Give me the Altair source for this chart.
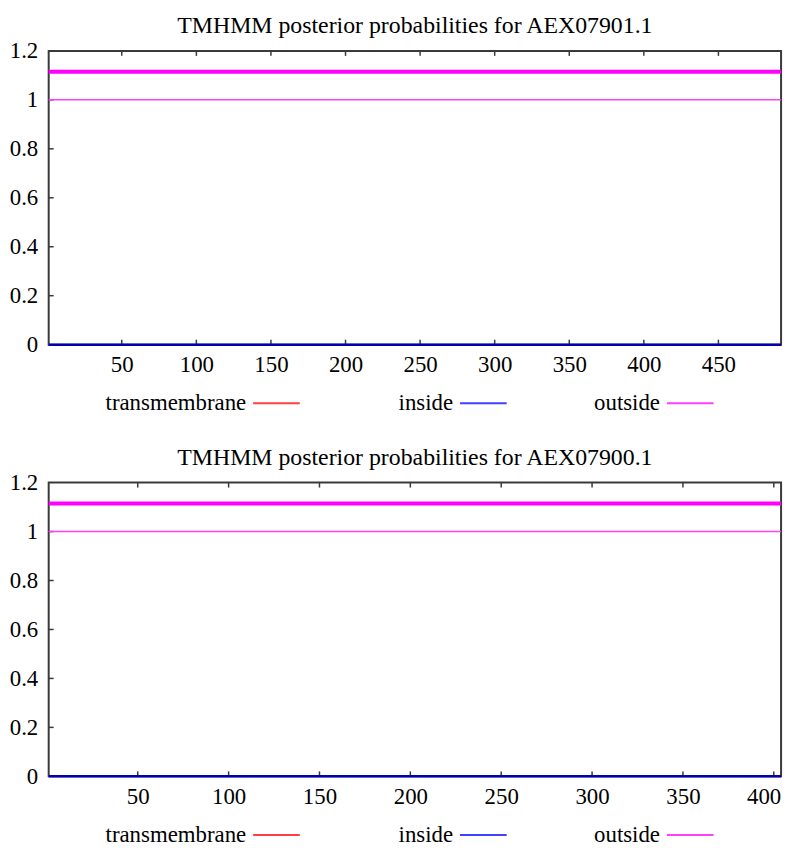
import altair as alt
import pandas as pd

# ---------------- data ----------------
proteins = ["AEX07901.1", "AEX07900.1"]
seq_lengths = [492, 404]
x_tick_values = [
    [50, 100, 150, 200, 250, 300, 350, 400, 450],
    [50, 100, 150, 200, 250, 300, 350, 400],
]
y_tick_values = [0, 0.2, 0.4, 0.6, 0.8, 1.0, 1.2]

series = ["transmembrane", "inside", "outside"]
# posterior probability of each state (constant along each whole sequence)
posterior = {
    "transmembrane": [0.0, 0.0],
    "inside": [0.0, 0.0],
    "outside": [1.0, 1.0],
}
# predicted topology bar (whole sequence outside)
topology_level = [1.115, 1.115]

line_colors = {"transmembrane": "#ff0000", "inside": "#0000b0", "outside": "#ff40ff"}
legend_colors = {"transmembrane": "#ff4040", "inside": "#4040ff", "outside": "#ff40ff"}

# ---------------- layout ----------------
W, H = 738, 296
FONT = "Liberation Serif"
FRAME = "#3a3a3a"


def panel(i):
    L = seq_lengths[i]
    xs = alt.Scale(domain=[1, L], nice=False, zero=False)
    ys = alt.Scale(domain=[0, 1.2], nice=False, zero=False)

    x_axis = alt.Axis(values=x_tick_values[i], ticks=False, domain=False, grid=False,
                      labelFont=FONT, labelFontSize=23, labelColor="black",
                      labelPadding=9, title=None, labelOverlap=False,
                      labelFlush=10, labelFlushOffset=7)
    y_axis = alt.Axis(values=y_tick_values, ticks=False, domain=False, grid=False,
                      labelFont=FONT, labelFontSize=23, labelColor="black",
                      labelPadding=11, title=None, format="~g", labelOverlap=False)

    def X(f):
        return alt.X(f, scale=xs, axis=x_axis)

    def Y(f):
        return alt.Y(f, scale=ys, axis=y_axis)

    layers = []

    # inward ticks (bottom, top, left)
    xt = pd.DataFrame({"t": x_tick_values[i]})
    yt = pd.DataFrame({"t": y_tick_values[1:-1]})
    layers.append(alt.Chart(xt).mark_rule(color=FRAME, strokeWidth=1.5).encode(
        x=X("t:Q"), y=alt.value(H), y2=alt.value(H - 5)))
    layers.append(alt.Chart(xt).mark_rule(color=FRAME, strokeWidth=1.5).encode(
        x=X("t:Q"), y=alt.value(0), y2=alt.value(5)))
    layers.append(alt.Chart(yt).mark_rule(color=FRAME, strokeWidth=1.5).encode(
        y=Y("t:Q"), x=alt.value(0), x2=alt.value(5)))

    # posterior probability lines
    for s in series:
        v = posterior[s][i]
        df = pd.DataFrame({"pos": [1, L], "p": [v, v]})
        sw = 2.5 if s == "inside" else 1.5
        layers.append(alt.Chart(df).mark_line(color=line_colors[s], strokeWidth=sw).encode(
            x=X("pos:Q"), y=Y("p:Q")))

    # topology bar
    tdf = pd.DataFrame({"pos": [1, L], "p": [topology_level[i]] * 2})
    layers.append(alt.Chart(tdf).mark_line(color="#ff00ff", strokeWidth=4).encode(
        x=X("pos:Q"), y=Y("p:Q")))

    # legend (label followed by line sample)
    for k, s in enumerate(series):
        xr = 199 + k * 208.5
        layers.append(alt.Chart(pd.DataFrame({"label": [s]})).mark_text(
            align="right", baseline="alphabetic", font=FONT, fontSize=23, color="black"
        ).encode(text="label:N", x=alt.value(xr), y=alt.value(H + 66)))
        layers.append(alt.Chart(pd.DataFrame({"label": [s]})).mark_rule(
            color=legend_colors[s], strokeWidth=2
        ).encode(x=alt.value(xr + 7), x2=alt.value(xr + 54), y=alt.value(H + 59)))

    return alt.layer(*layers).properties(
        width=W, height=H,
        title=alt.TitleParams(
            text=f"TMHMM posterior probabilities for {proteins[i]}",
            font=FONT, fontSize=24, fontWeight="normal", color="black",
            anchor="middle", offset=2),
        view=alt.ViewBackground(stroke=FRAME, strokeWidth=2),
    )


chart = alt.vconcat(panel(0), panel(1), spacing=29).properties(
    padding={"left": 0, "top": 2, "right": 0, "bottom": 0})
chart = chart.configure(background="white")

chart.save("out.html", embed_options={"renderer": "svg", "actions": False})
